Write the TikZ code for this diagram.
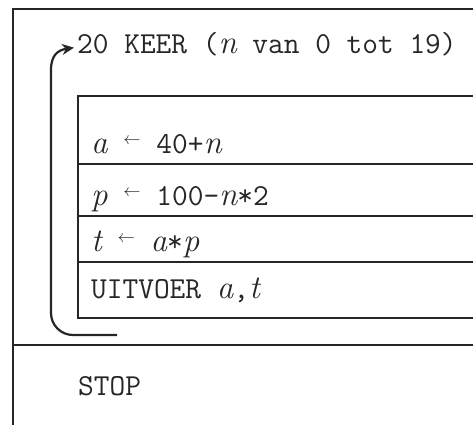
\documentclass[tikz,border=0pt]{standalone}
\usetikzlibrary{arrows.meta}
\newcommand\sarrow{\raisebox{9pt}{\fontsize{17}{17}\selectfont$\leftarrow$}}
\newcommand\vv[1]{{\fontsize{33}{36}\selectfont\rmfamily\itshape #1}}
\begin{document}
\begin{tikzpicture}[x=1pt,y=-1pt,
  frame/.style={line width=1.3pt, draw=black!85},
  txt/.style={font=\fontsize{30.5}{36}\selectfont\ttfamily, text=black!85, inner sep=0pt, anchor=base west},
  looparrow/.style={line width=2.2pt, draw=black!85, -{Stealth[length=12pt,width=11pt]}}]
\useasboundingbox (0,0) rectangle (473,425);
% outer frame
\draw[frame] (473,9) -- (13,9) -- (13,425);
\draw[frame] (13,345) -- (473,345);
% inner block
\draw[frame] (473,96) -- (78,96) -- (78,318) -- (473,318);
\draw[frame] (78,164) -- (473,164);
\draw[frame] (78,216) -- (473,216);
\draw[frame] (78,262) -- (473,262);
% texts
\node[txt] (title) at (77,54) {20 KEER (\vv{n} van 0 tot 19)};
\node[txt] (r0) at (91,153) {\vv{a} \sarrow{} 40+\vv{n}};
\node[txt] (r1) at (91,205) {\vv{p} \sarrow{} 100-\vv{n}*2};
\node[txt] (r2) at (91,251) {\vv{t} \sarrow{} \vv{a}*\vv{p}};
\node[txt] (r3) at (91,298) {UITVOER \vv{a},\vv{t}};
\node[txt] (stop) at (78,395) {STOP};
% loop arrow
\coordinate (lb) at (117,335);
\draw[looparrow] (lb) [rounded corners=22pt] -| (51,100) [sharp corners] -- (51,70)
  .. controls (51,55) and (58,50) .. ([xshift=-3pt,yshift=-3pt]title.west);
\end{tikzpicture}
\end{document}
